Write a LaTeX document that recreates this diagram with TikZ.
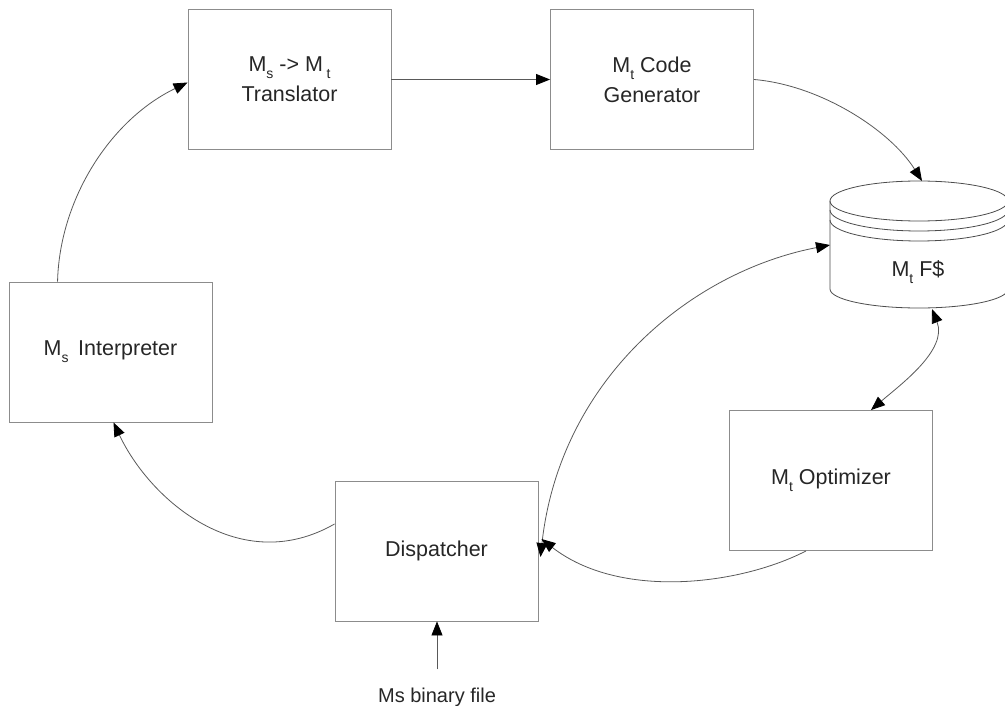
\documentclass[tikz,border=0pt]{standalone}
\usepackage{fontspec}
\setmainfont{Liberation Sans}
\usetikzlibrary{arrows.meta,calc}
\newcommand{\subsc}[1]{\raisebox{-7pt}{\fontsize{14}{14}\selectfont #1}}
\begin{document}
\begin{tikzpicture}[x=1pt,y=-1pt,
  box/.style={draw=black!45,line width=0.9pt,minimum width=203pt,minimum height=140pt,
    align=center,inner sep=0pt,font=\fontsize{21.5}{30}\selectfont,text=black!85},
  conn/.style={draw=black!65,line width=0.8pt,-{Triangle[length=14pt,width=11pt,black]}},
  conn2/.style={draw=black!65,line width=0.8pt,{Triangle[length=14pt,width=11pt,black]}-{Triangle[length=14pt,width=11pt,black]}},
  lbl/.style={font=\fontsize{21.5}{26}\selectfont,text=black!85,inner sep=0pt}]
\useasboundingbox (0,0) rectangle (1005,706);
\node[box] (trans) at (289.5,79.5) {M\subsc{s} -> M\,\subsc{t}\\Translator};
\node[box] (codegen) at (652,79.5) {M\subsc{t} Code\\Generator};
\node[box] (interp) at (110.5,352) {M\subsc{s}\ \,Interpreter};
\node[box] (opt) at (831,480.5) {M\subsc{t} Optimizer};
\node[box] (disp) at (436.5,551) {Dispatcher};
% cylinder
\draw[black!70,line width=0.8pt,fill=white] (830,201) -- (830,289) arc[start angle=180,end angle=360,x radius=89,y radius=-19] -- (1008,201);
\draw[black!70,line width=0.8pt] (919,201) ellipse[x radius=89,y radius=20];
\draw[black!70,line width=0.8pt] (830,210) arc[start angle=180,end angle=360,x radius=89,y radius=-21];
\draw[black!70,line width=0.8pt] (830,220) arc[start angle=180,end angle=360,x radius=89,y radius=-21];
\node[lbl] (db) at (918,272) {M\subsc{t} F\$};
\coordinate (dbtop) at (922,181);
\coordinate (dbleft) at (830,245);
\coordinate (dbbot) at (932,309);
% source label
\node[lbl,font=\fontsize{20}{24}\selectfont,anchor=base] (src) at (437,702) {Ms binary file};
% connectors
\draw[conn] ([xshift=49pt]interp.north west) .. controls ($([xshift=49pt]interp.north west)+(2,-82)$) and (110,120) .. ([yshift=-3pt]trans.west);
\draw[conn] (trans.east) -- (codegen.west);
\draw[conn] (codegen.east) .. controls (820,85) and (890,130) .. (dbtop);
\draw[conn2] ([xshift=2pt,yshift=-6pt]disp.east) .. controls (560,380) and (690,272) .. (dbleft);
\draw[conn] ([xshift=-25pt]opt.south) .. controls (740,585) and (620,600) .. ([xshift=3pt,yshift=12pt]disp.east);
\draw[conn2] (dbbot) .. controls (948,350) and (900,385) .. ([xshift=40pt]opt.north);
\draw[conn] ([yshift=27pt]disp.west) .. controls (240,578) and (150,500) .. ([xshift=3pt]interp.south);
\draw[conn] ([yshift=18pt]src.north) -- (src.north |- disp.south);
\end{tikzpicture}
\end{document}
